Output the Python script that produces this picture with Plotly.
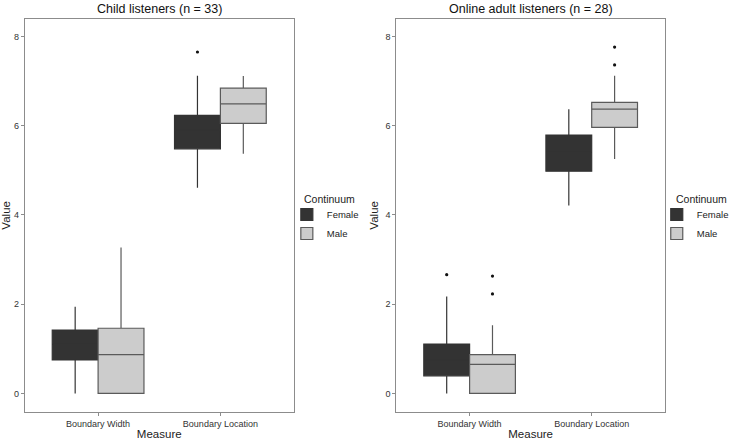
import plotly.graph_objects as go

categories = ["Boundary Width", "Boundary Location"]
groups = ["Female", "Male"]
panel_titles = ["Child listeners (n = 33)", "Online adult listeners (n = 28)"]
legend_title = "Continuum"

# Child listeners
child_female_lower = [0.0, 4.61]
child_female_q1 = [0.75, 5.48]
child_female_median = [1.10, 5.90]
child_female_q3 = [1.42, 6.23]
child_female_upper = [1.94, 7.12]
child_female_outliers = [[], [7.65]]

child_male_lower = [0.0, 5.37]
child_male_q1 = [0.0, 6.05]
child_male_median = [0.87, 6.49]
child_male_q3 = [1.46, 6.84]
child_male_upper = [3.27, 7.11]
child_male_outliers = [[], []]

# Online adult listeners
online_female_lower = [0.0, 4.21]
online_female_q1 = [0.395, 4.98]
online_female_median = [0.75, 5.40]
online_female_q3 = [1.105, 5.79]
online_female_upper = [2.17, 6.37]
online_female_outliers = [[2.66], []]

online_male_lower = [0.0, 5.25]
online_male_q1 = [0.0, 5.96]
online_male_median = [0.65, 6.37]
online_male_q3 = [0.87, 6.52]
online_male_upper = [1.53, 7.12]
online_male_outliers = [[2.63, 2.23], [7.76, 7.36]]

y_ticks = [0, 2, 4, 6, 8]

panels = [
    {
        "Female": (child_female_lower, child_female_q1, child_female_median,
                   child_female_q3, child_female_upper, child_female_outliers),
        "Male": (child_male_lower, child_male_q1, child_male_median,
                 child_male_q3, child_male_upper, child_male_outliers),
    },
    {
        "Female": (online_female_lower, online_female_q1, online_female_median,
                   online_female_q3, online_female_upper, online_female_outliers),
        "Male": (online_male_lower, online_male_q1, online_male_median,
                 online_male_q3, online_male_upper, online_male_outliers),
    },
]

FONT = "Liberation Sans, Arial, sans-serif"
fills = {"Female": "#333333", "Male": "#cccccc"}
line_colors = {"Female": "#333333", "Male": "#5a5a5a"}
dodge = 0.75
bw = dodge / 2
offsets = {"Female": -bw / 2, "Male": bw / 2}

W, H = 734, 441
x_domains = [[25 / W, 297 / W], [400.7 / W, 672.3 / W]]
y_domain = [(H - 411.7) / H, (H - 19) / H]

fig = go.Figure()
for p, panel in enumerate(panels):
    xa = "x" if p == 0 else "x2"
    ya = "y" if p == 0 else "y2"
    leg = "legend" if p == 0 else "legend2"
    for g in groups:
        lower, q1, med, q3, upper, outl = panel[g]
        xs = [i + 1 + offsets[g] for i in range(len(categories))]
        fig.add_trace(go.Box(
            x=xs, q1=q1, median=med, q3=q3, lowerfence=lower, upperfence=upper,
            width=bw, name=g, fillcolor=fills[g],
            line=dict(color=line_colors[g], width=1.2),
            whiskerwidth=0, boxpoints=False, xaxis=xa, yaxis=ya,
            legend=leg, showlegend=True, hoverinfo="skip",
        ))
        ox, oy = [], []
        for i, vals in enumerate(outl):
            for v in vals:
                ox.append(i + 1 + offsets[g])
                oy.append(v)
        if ox:
            fig.add_trace(go.Scatter(
                x=ox, y=oy, mode="markers",
                marker=dict(size=3.2, color="#111111"),
                xaxis=xa, yaxis=ya, showlegend=False, hoverinfo="skip",
            ))

axis_common = dict(
    showgrid=False, zeroline=False, showline=True, mirror=True,
    linecolor="#8c8c8c", linewidth=1, ticks="outside", ticklen=3,
    tickcolor="#8c8c8c", tickfont=dict(family=FONT, size=9, color="#333333"),
    automargin=False,
)
for p in range(2):
    sx = "" if p == 0 else "2"
    fig.update_layout(**{
        f"xaxis{sx}": dict(
            axis_common, domain=x_domains[p], range=[0.4, 2.6],
            tickvals=[1, 2], ticktext=categories,
            anchor=f"y{sx}",
            title=dict(text="Measure", font=dict(family=FONT, size=11.5, color="#222222"), standoff=2),
        ),
        f"yaxis{sx}": dict(
            axis_common, domain=y_domain, range=[-0.41, 8.39],
            tickvals=y_ticks, anchor=f"x{sx}",
            title=dict(text="Value", font=dict(family=FONT, size=11.5, color="#222222"), standoff=4),
        ),
    })

for p in range(2):
    fig.add_annotation(
        x=(x_domains[p][0] + x_domains[p][1]) / 2, y=(H - 9) / H,
        xref="paper", yref="paper", text=panel_titles[p], showarrow=False,
        font=dict(family=FONT, size=12.5, color="#111111"),
        xanchor="center", yanchor="middle",
    )

# legend titles (placed as text above each legend)
legend_title_x = [305 / W, 681 / W]
for p in range(2):
    fig.add_annotation(
        x=legend_title_x[p], y=(H - 199) / H, xref="paper", yref="paper",
        text=legend_title, showarrow=False, xanchor="left", yanchor="middle",
        font=dict(family=FONT, size=10.5, color="#222222"),
    )

legend_common = dict(
    font=dict(family=FONT, size=9.5, color="#222222"),
    bgcolor="rgba(0,0,0,0)", xanchor="left", yanchor="top",
    y=(H - 200) / H, tracegroupgap=0,
)
fig.update_layout(
    width=W, height=H,
    margin=dict(l=0, r=0, t=0, b=0),
    paper_bgcolor="white", plot_bgcolor="white",
    boxmode="overlay",
    legend=dict(legend_common, x=290 / W),
    legend2=dict(legend_common, x=664 / W),
    font=dict(family=FONT),
)

fig.write_html("out.html", config={"displayModeBar": False},
               post_script="document.body.style.margin='0px';")
